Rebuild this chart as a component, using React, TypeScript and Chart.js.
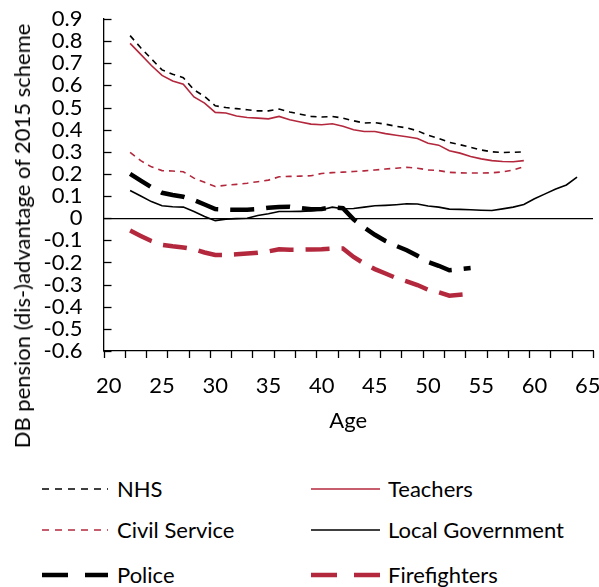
import React, { useEffect, useRef } from 'react';
import { Chart, registerables } from 'chart.js';

Chart.register(...registerables);

// Age categories (x values)
const AGES = [22, 23, 24, 25, 26, 27, 28, 29, 30, 31, 32, 33, 34, 35, 36, 37, 38, 39, 40, 41, 42, 43, 44, 45, 46, 47, 48, 49, 50, 51, 52, 53, 54, 55, 56, 57, 58, 59, 60, 61, 62, 63, 64];

// Series values, starting at age 22
const NHS = [0.825, 0.77, 0.72, 0.67, 0.65, 0.635, 0.58, 0.55, 0.508, 0.5, 0.495, 0.49, 0.485, 0.485, 0.493, 0.48, 0.47, 0.46, 0.457, 0.46, 0.452, 0.44, 0.43, 0.432, 0.425, 0.415, 0.408, 0.395, 0.375, 0.36, 0.343, 0.332, 0.32, 0.308, 0.3, 0.297, 0.298, 0.3];
const TEACHERS = [0.79, 0.74, 0.69, 0.645, 0.62, 0.605, 0.548, 0.52, 0.478, 0.475, 0.462, 0.455, 0.452, 0.449, 0.46, 0.445, 0.435, 0.425, 0.422, 0.427, 0.415, 0.4, 0.392, 0.392, 0.382, 0.375, 0.368, 0.36, 0.339, 0.33, 0.305, 0.294, 0.279, 0.268, 0.26, 0.256, 0.255, 0.26];
const CIVIL_SERVICE = [0.297, 0.26, 0.232, 0.215, 0.213, 0.21, 0.181, 0.162, 0.143, 0.149, 0.153, 0.158, 0.165, 0.172, 0.187, 0.189, 0.19, 0.192, 0.202, 0.206, 0.208, 0.211, 0.214, 0.218, 0.222, 0.226, 0.23, 0.226, 0.218, 0.215, 0.207, 0.205, 0.204, 0.204, 0.205, 0.209, 0.218, 0.232];
const LOCAL_GOVERNMENT = [0.125, 0.1, 0.075, 0.056, 0.052, 0.05, 0.03, 0.008, -0.011, -0.004, -0.002, 0.0, 0.012, 0.02, 0.03, 0.03, 0.031, 0.033, 0.038, 0.05, 0.043, 0.044, 0.05, 0.056, 0.058, 0.061, 0.065, 0.064, 0.055, 0.05, 0.041, 0.04, 0.038, 0.036, 0.035, 0.042, 0.05, 0.062, 0.088, 0.11, 0.132, 0.15, 0.186];
const POLICE = [0.2, 0.17, 0.14, 0.115, 0.105, 0.097, 0.082, 0.062, 0.041, 0.039, 0.038, 0.038, 0.041, 0.047, 0.051, 0.052, 0.046, 0.04, 0.042, 0.05, 0.045, -0.005, -0.042, -0.075, -0.103, -0.125, -0.145, -0.17, -0.198, -0.215, -0.235, -0.23, -0.225];
const FIREFIGHTERS = [-0.056, -0.08, -0.103, -0.12, -0.127, -0.132, -0.14, -0.155, -0.166, -0.166, -0.163, -0.16, -0.156, -0.15, -0.14, -0.142, -0.142, -0.141, -0.14, -0.137, -0.137, -0.175, -0.205, -0.23, -0.25, -0.27, -0.285, -0.302, -0.323, -0.335, -0.35, -0.346, -0.342];

// Axis labels
const X_TICK_LABELS = [20, 25, 30, 35, 40, 45, 50, 55, 60, 65];
const X_MIN = 19.5;
const X_MAX = 65.5;
const Y_MIN = -0.6;
const Y_MAX = 0.9;
const Y_TITLE = 'DB pension (dis-)advantage of 2015 scheme';
const X_TITLE = 'Age';

const RED = '#b3283d';
const FONT = 'Lato';
const FONT_SIZE = 22;

const toPoints = (vals: number[]) => vals.map((v, i) => ({ x: AGES[i], y: v }));

type LegendItem = { label: string; color: string; width: number; dash: number[]; legendDash: number[] };

const SERIES: (LegendItem & { data: number[] })[] = [
  { label: 'NHS', data: NHS, color: '#000000', width: 1.6, dash: [6, 5], legendDash: [7, 6] },
  { label: 'Teachers', data: TEACHERS, color: RED, width: 1.6, dash: [], legendDash: [] },
  { label: 'Civil Service', data: CIVIL_SERVICE, color: RED, width: 1.6, dash: [6, 5], legendDash: [7, 6] },
  { label: 'Local Government', data: LOCAL_GOVERNMENT, color: '#000000', width: 1.6, dash: [], legendDash: [] },
  { label: 'Police', data: POLICE, color: '#000000', width: 4.5, dash: [24, 12], legendDash: [26, 17] },
  { label: 'Firefighters', data: FIREFIGHTERS, color: RED, width: 4.5, dash: [24, 12], legendDash: [26, 17] },
];

const tickMarksPlugin = {
  id: 'tickMarks',
  afterDraw(chart: any) {
    const { ctx } = chart;
    const xs = chart.scales.x;
    const ys = chart.scales.y;
    ctx.save();
    ctx.strokeStyle = '#000';
    ctx.lineWidth = 1.3;
    ys.ticks.forEach((t: any) => {
      const py = Math.round(ys.getPixelForValue(t.value)) + 0.5;
      ctx.beginPath();
      ctx.moveTo(xs.left, py);
      ctx.lineTo(xs.left + 8, py);
      ctx.stroke();
    });
    for (let v = xs.min; v <= xs.max + 1e-9; v += 2) {
      const px = Math.round(xs.getPixelForValue(v)) + 0.5;
      ctx.beginPath();
      ctx.moveTo(px, ys.bottom);
      ctx.lineTo(px, ys.bottom + 7);
      ctx.stroke();
    }
    ctx.restore();
  },
};

function LegendSample({ item, w }: { item: LegendItem; w: number }) {
  return (
    <svg width={w} height={12} style={{ display: 'block' }}>
      <line
        x1={0}
        y1={6}
        x2={w}
        y2={6}
        stroke={item.color}
        strokeWidth={item.width}
        strokeDasharray={item.legendDash.length ? item.legendDash.join(' ') : undefined}
      />
    </svg>
  );
}

export default function App() {
  const canvasRef = useRef<HTMLCanvasElement | null>(null);

  useEffect(() => {
    if (!canvasRef.current) return;
    const chart = new Chart(canvasRef.current, {
      type: 'line',
      data: {
        datasets: SERIES.map((s) => ({
          label: s.label,
          data: toPoints(s.data),
          borderColor: s.color,
          backgroundColor: s.color,
          borderWidth: s.width,
          borderDash: s.dash,
          borderCapStyle: 'butt',
          pointRadius: 0,
          pointHoverRadius: 0,
          tension: 0,
          fill: false,
        })),
      },
      options: {
        animation: false,
        responsive: true,
        maintainAspectRatio: false,
        layout: { padding: { top: 19, right: 6, left: 0, bottom: 0 } },
        plugins: { legend: { display: false }, tooltip: { enabled: false } },
        scales: {
          x: {
            type: 'linear',
            min: X_MIN,
            max: X_MAX,
            afterBuildTicks: (scale: any) => {
              scale.ticks = X_TICK_LABELS.map((v) => ({ value: v }));
            },
            afterFit: (scale: any) => {
              scale.height = 109;
              scale.paddingLeft = 0;
              scale.paddingRight = 0;
            },
            grid: { display: false, drawTicks: false },
            border: { display: true, color: '#000', width: 1.3 },
            ticks: {
              padding: 22,
              color: '#000',
              font: { family: FONT, size: FONT_SIZE },
              maxRotation: 0,
              autoSkip: false,
              callback: (v: any) => String(v),
            },
            title: {
              display: true,
              text: X_TITLE,
              color: '#000',
              font: { family: FONT, size: FONT_SIZE },
              padding: { top: 0, bottom: 26 },
            },
          },
          y: {
            type: 'linear',
            min: Y_MIN,
            max: Y_MAX,
            afterFit: (scale: any) => {
              scale.width = 103.5;
              scale.paddingTop = 0;
              scale.paddingBottom = 0;
            },
            grid: {
              drawTicks: false,
              lineWidth: 1.3,
              color: (c: any) => (c.tick && Math.abs(c.tick.value) < 1e-9 ? '#000' : 'rgba(0,0,0,0)'),
            },
            border: { display: true, color: '#000', width: 1.3 },
            ticks: {
              stepSize: 0.1,
              autoSkip: false,
              padding: 21,
              color: '#000',
              font: { family: FONT, size: FONT_SIZE },
              callback: (v: any) => (Math.abs(Number(v)) < 1e-9 ? '0' : Number(v).toFixed(1)),
            },
          },
        },
      },
      plugins: [tickMarksPlugin],
    } as any);
    return () => chart.destroy();
  }, []);

  const textStyle: React.CSSProperties = {
    position: 'absolute',
    fontFamily: FONT,
    fontSize: FONT_SIZE,
    color: '#000',
    whiteSpace: 'nowrap',
    lineHeight: '24px',
  };

  const rowsY = [489, 530, 575];
  const cols = [
    { sx: 42, sw: 66, tx: 117 },
    { sx: 311, sw: 69, tx: 388 },
  ];

  return (
    <div style={{ position: 'fixed', left: 0, top: 0, width: 599, height: 587, background: '#fff', overflow: 'hidden' }}>
      <div style={{ position: 'absolute', left: 0, top: 0, width: 599, height: 460 }}>
        <canvas ref={canvasRef} />
      </div>
      <div
        style={{
          ...textStyle,
          left: 22,
          top: 236,
          transform: 'translate(-50%, -50%) rotate(-90deg)',
        }}
      >
        {Y_TITLE}
      </div>
      {SERIES.map((s, i) => {
        const row = Math.floor(i / 2);
        const col = cols[i % 2];
        const cy = rowsY[row];
        return (
          <React.Fragment key={s.label}>
            <div style={{ position: 'absolute', left: col.sx, top: cy - 6 }}>
              <LegendSample item={s} w={col.sw} />
            </div>
            <div style={{ ...textStyle, left: col.tx, top: cy - 12 }}>{s.label}</div>
          </React.Fragment>
        );
      })}
    </div>
  );
}
